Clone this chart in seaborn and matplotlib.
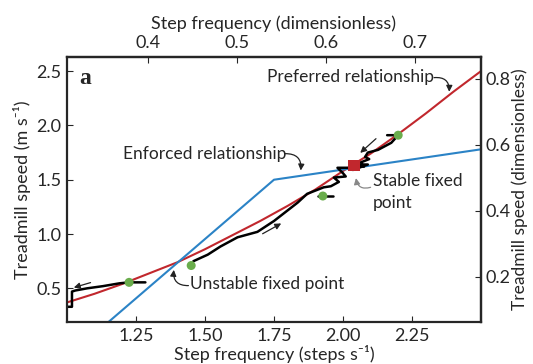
import numpy as np
import pandas as pd
import seaborn as sns
from matplotlib import pyplot as plt

# preferred relationship (red)
pref_f = [1.0, 1.1, 1.2, 1.3, 1.4, 1.5, 1.6, 1.7, 1.8, 1.9, 2.0, 2.1, 2.2, 2.3, 2.4, 2.5]
pref_v = [0.37, 0.45, 0.54, 0.64, 0.74, 0.86, 0.99, 1.12, 1.26, 1.41, 1.58, 1.74, 1.92, 2.11, 2.31, 2.5]

# enforced relationship (blue)
enf_f = [1.1, 1.75, 2.5]
enf_v = [0.08, 1.5, 1.78]

# walking trajectories (black)
walk1_f = [1.284, 1.225, 1.19, 1.13, 1.073, 1.03, 1.018, 1.018, 1.0]
walk1_v = [0.555, 0.555, 0.546, 0.52, 0.50, 0.48, 0.47, 0.33, 0.33]
walk2_f = [1.458, 1.51, 1.556, 1.618, 1.69, 1.75, 1.836, 1.87, 1.93, 1.956, 1.985, 1.967,
           2.01, 2.0, 1.98, 2.03, 2.036, 2.09, 2.06]
walk2_v = [0.75, 0.81, 0.885, 0.97, 1.02, 1.12, 1.29, 1.37, 1.43, 1.44, 1.48, 1.52,
           1.53, 1.56, 1.61, 1.61, 1.59, 1.64, 1.64]
walk3_f = [2.16, 2.20, 2.175, 2.127, 2.09, 2.08, 2.095, 2.065, 2.076, 2.04]
walk3_v = [1.91, 1.91, 1.84, 1.775, 1.75, 1.71, 1.69, 1.66, 1.62, 1.63]
bar_f = [1.91, 1.965]
bar_v = [1.35, 1.35]

# starting points (green) and stable fixed point (red square)
start_f = [1.225, 1.45, 1.927, 2.2]
start_v = [0.555, 0.71, 1.35, 1.91]
stable_f = [2.04]
stable_v = [1.63]

# leg length used for the dimensionless axes
leg_len = 0.94
g = 9.81
f_scale = np.sqrt(leg_len / g)
v_scale = 1 / np.sqrt(g * leg_len)

red = '#c1272d'
blue = '#2b83c6'
green = '#6aad4c'

sns.set_style('ticks')
plt.rcParams['font.family'] = ['Lato', 'DejaVu Sans']
plt.rcParams['font.size'] = 13

fig = plt.figure(figsize=(5.33, 3.64), dpi=100)
ax = fig.add_axes([0.1257, 0.1154, 0.7767, 0.728])

sns.lineplot(x=pref_f, y=pref_v, color=red, lw=1.5, sort=False, estimator=None, ax=ax)
sns.lineplot(x=enf_f, y=enf_v, color=blue, lw=1.5, sort=False, estimator=None, ax=ax)
for wf, wv in [(walk1_f, walk1_v), (walk2_f, walk2_v), (walk3_f, walk3_v), (bar_f, bar_v)]:
    sns.lineplot(x=wf, y=wv, color='black', lw=1.8, sort=False, estimator=None, ax=ax)
sns.scatterplot(x=start_f, y=start_v, color=green, s=42, edgecolor='none', zorder=5, ax=ax)
sns.scatterplot(x=stable_f, y=stable_v, color=red, marker='s', s=70, edgecolor='none', zorder=6, ax=ax)

ax.set_xlim(1.0, 2.5)
ax.set_ylim(0.19, 2.63)
ax.set_xticks([1.25, 1.5, 1.75, 2.0, 2.25])
ax.set_xticklabels(['1.25', '1.50', '1.75', '2.00', '2.25'])
ax.set_yticks([0.5, 1.0, 1.5, 2.0, 2.5])
ax.set_xlabel('Step frequency (steps s⁻¹)', labelpad=1)
ax.set_ylabel('Treadmill speed (m s⁻¹)', labelpad=4)
ax.tick_params(direction='in', length=4, width=0.8, pad=4, labelsize=13)
for s in ax.spines.values():
    s.set_linewidth(1.6)

top = ax.secondary_xaxis('top', functions=(lambda f: f * f_scale, lambda d: d / f_scale))
top.set_xticks([0.4, 0.5, 0.6, 0.7])
top.set_xlabel('Step frequency (dimensionless)', labelpad=5)
top.tick_params(direction='in', length=4, width=0.8, pad=4, labelsize=13)
right = ax.secondary_yaxis('right', functions=(lambda v: v * v_scale, lambda d: d / v_scale))
right.set_yticks([0.2, 0.4, 0.6, 0.8])
right.set_ylabel('Treadmill speed (dimensionless)', labelpad=1, fontsize=12.5)
right.tick_params(direction='in', length=4, width=0.8, pad=3, labelsize=13)
for sec in (top, right):
    for s in sec.spines.values():
        s.set_linewidth(1.6)

# direction arrows
arr = dict(arrowstyle='-|>', color='#222222', lw=0.9, mutation_scale=9)
ax.annotate('', xy=(1.015, 0.50), xytext=(1.095, 0.56), arrowprops=arr)
ax.annotate('', xy=(1.785, 1.11), xytext=(1.70, 0.99), arrowprops=arr)
ax.annotate('', xy=(2.055, 1.73), xytext=(2.127, 1.895), arrowprops=arr)

# panel letter and labels
ax.text(1.045, 2.43, 'a', fontsize=17, fontweight='bold', family='Liberation Serif', va='center')
ax.text(1.724, 2.445, 'Preferred relationship', fontsize=12.5, va='center', ha='left')
ax.text(1.204, 1.74, 'Enforced relationship', fontsize=12.5, va='center', ha='left')
ax.text(1.444, 0.537, 'Unstable fixed point', fontsize=12.5, va='center', ha='left')
ax.text(2.109, 1.49, 'Stable fixed', fontsize=12.5, va='center', ha='left')
ax.text(2.109, 1.285, 'point', fontsize=12.5, va='center', ha='left')

# curved pointers from the labels
curl = dict(arrowstyle='-|>', color='#222222', lw=0.9, mutation_scale=9,
            connectionstyle='arc3,rad=-0.55', shrinkA=0, shrinkB=0)
ax.annotate('', xy=(2.385, 2.31), xytext=(2.33, 2.44), arrowprops=curl)
ax.annotate('', xy=(1.847, 1.585), xytext=(1.79, 1.74), arrowprops=curl)
ax.annotate('', xy=(1.387, 0.67), xytext=(1.44, 0.525), arrowprops=curl)
ax.annotate('', xy=(2.047, 1.515), xytext=(2.10, 1.43), arrowprops=dict(curl, color='#888888'))

fig.savefig('out.png', dpi=100)
